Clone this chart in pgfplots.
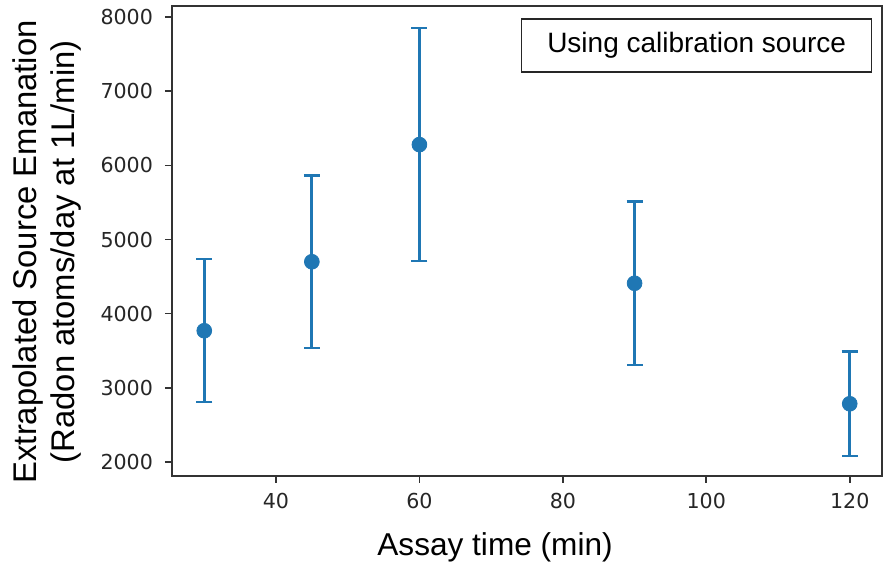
\documentclass[border=0pt]{standalone}
\usepackage{fontspec}
\setmainfont{Liberation Sans}
\newfontfamily\dejavu{DejaVu Sans}
\usepackage{pgfplots}
\pgfplotsset{compat=1.18}
\definecolor{mplblue}{HTML}{1F77B4}
\begin{document}
\begin{tikzpicture}
\begin{axis}[
  name=ax,
  scale only axis,
  width=355pt, height=235pt,
  xmin=25.5, xmax=124.5,
  ymin=1811, ymax=8149,
  xtick={40,60,80,100,120},
  ytick={2000,3000,4000,5000,6000,7000,8000},
  scaled ticks=false,
  /pgf/number format/1000 sep={},
  /pgf/number format/assume math mode=true,
  tick pos=left,
  tick align=outside,
  major tick length=3.5pt,
  every tick/.style={black!80, line width=0.8pt},
  axis line style={black!80, line width=0.8pt},
  ticklabel style={font=\dejavu\fontsize{10.3}{12}\selectfont, text=black!85},
  yticklabel style={xshift=-2.5pt},
  xticklabel style={yshift=-1.5pt},
  xlabel={Assay time (min)},
  ylabel={Extrapolated Source Emanation\\(Radon atoms/day at 1L/min)},
  every axis x label/.style={at={(rel axis cs:0.455,0)}, anchor=base, yshift=-40pt, font=\fontsize{15.8}{18}\selectfont},
  every axis y label/.style={at={(rel axis cs:0,0.477)}, xshift=-62.5pt, rotate=90, anchor=center, align=center, font=\fontsize{16.4}{19}\selectfont},
]
\addplot[only marks, mark=*, mark size=3.7pt, color=mplblue,
  error bars/.cd, y dir=both, y explicit,
  error bar style={line width=1.5pt, mplblue},
  error mark=|,
  error mark options={mark size=4pt, line width=1.2pt, mplblue}]
  coordinates {
  (30,3770) +- (0,965)
  (45,4700) +- (0,1165)
  (60,6280) +- (0,1570)
  (90,4410) +- (0,1105)
  (120,2785) +- (0,703)
  };
\node[draw=black!85, line width=0.6pt, minimum width=175pt, minimum height=26.5pt, inner sep=0pt,
  font=\fontsize{14}{17}\selectfont] at (rel axis cs:0.739,0.916) {Using calibration source};
\end{axis}
\pgfresetboundingbox
\path[use as bounding box] ([shift={(-86pt,-45pt)}]ax.south west) rectangle ([shift={(0.5pt,3pt)}]ax.north east);
\end{tikzpicture}
\end{document}
